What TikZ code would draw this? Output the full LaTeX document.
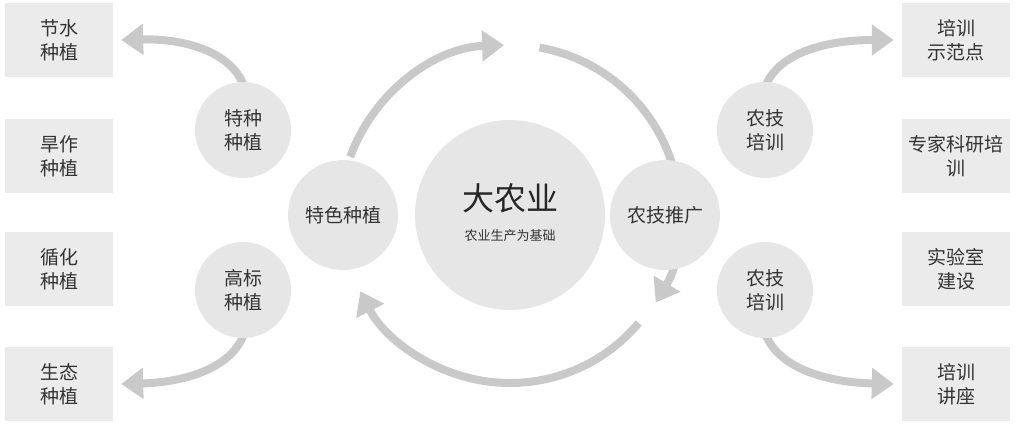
\documentclass[tikz,border=0pt]{standalone}
\usepackage{fontspec}
\setmainfont{Noto Sans CJK SC}
\usetikzlibrary{arrows.meta}
\pgfdeclarelayer{background}
\pgfsetlayers{background,main}
\definecolor{boxgray}{HTML}{EBEBEB}
\definecolor{ballgray}{HTML}{E6E6E6}
\definecolor{arrgray}{HTML}{C9C9C9}
\tikzset{
  sidebox/.style={fill=boxgray, minimum width=108bp, minimum height=74bp, align=center, font=\fontsize{19bp}{24bp}\selectfont, text=black!80},
  ball/.style={circle, fill=ballgray, align=center, font=\fontsize{19bp}{24bp}\selectfont, text=black!80},
  flow/.style={draw=arrgray, line width=8bp, -{Triangle[length=22bp,width=30bp]}}
}
\begin{document}
\begin{tikzpicture}[x=1bp,y=-1bp]
\useasboundingbox (0,0) rectangle (1016,427);

\node[sidebox] (l1) at (59,40) {节水\\种植};
\node[sidebox] (l2) at (59,156) {旱作\\种植};
\node[sidebox] (l3) at (59,269) {循化\\种植};
\node[sidebox] (l4) at (59,384) {生态\\种植};
\node[sidebox] (r1) at (956,40) {培训\\示范点};
\node[sidebox] (r2) at (956,156) {专家科研培\\训};
\node[sidebox] (r3) at (956,269) {实验室\\建设};
\node[sidebox] (r4) at (956,384) {培训\\讲座};

\node[ball, minimum size=96bp] (tz) at (243,130) {特种\\种植};
\node[ball, minimum size=96bp] (gb) at (243,290) {高标\\种植};
\node[ball, minimum size=110bp] (ts) at (343,215) {特色种植};
\node[ball, minimum size=190bp] (dn) at (510,215) {};
\node[font=\fontsize{32bp}{36bp}\selectfont, text=black!85] (dt) at (510,198) {大农业};
\node[font=\fontsize{13bp}{16bp}\selectfont, text=black!80] (ds) at (510,236) {农业生产为基础};
\node[ball, minimum size=110bp] (nt) at (665,215) {农技推广};
\node[ball, minimum size=96bp] (p1) at (765,130) {农技\\培训};
\node[ball, minimum size=96bp] (p2) at (765,290) {农技\\培训};

\begin{pgfonlayer}{background}
\draw[flow] (dn.center) ++(-160:170) arc (-160:-92:170);
\draw[flow] (dn.center) ++(-80:170) arc (-80:31:170);
\draw[flow] (dn.center) ++(40:168) arc (40:153:168);

\draw[flow] (tz.center) .. controls (265,60) and (195,38) .. ([xshift=8bp]l1.east);
\draw[flow] (gb.center) .. controls (265,360) and (195,382) .. ([xshift=8bp]l4.east);
\draw[flow] (p1.center) .. controls (745,60) and (815,40) .. ([xshift=-8bp]r1.west);
\draw[flow] (p2.center) .. controls (745,360) and (815,382) .. ([xshift=-8bp]r4.west);
\end{pgfonlayer}
\end{tikzpicture}
\end{document}
